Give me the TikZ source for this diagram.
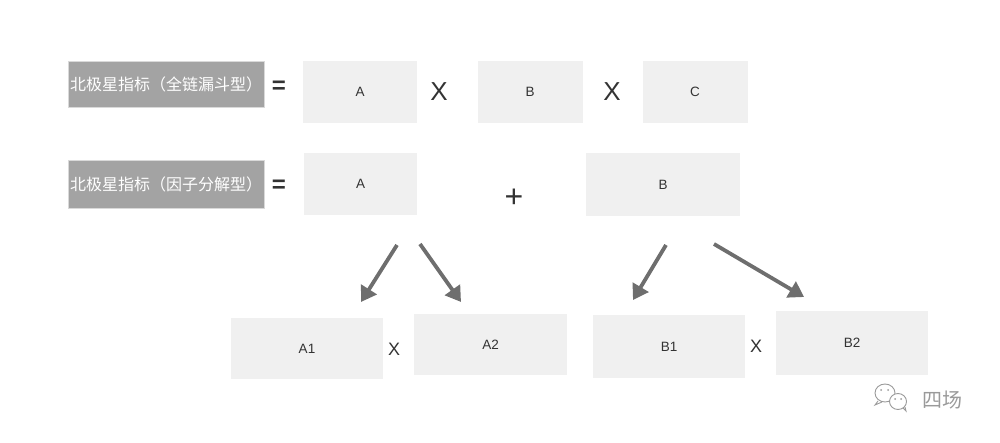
\documentclass[tikz,border=0pt]{standalone}
\usepackage{fontspec}
\setmainfont{Liberation Sans}
\newfontfamily\cjk{Noto Sans CJK SC}
\usetikzlibrary{arrows.meta}
\definecolor{boxfill}{HTML}{F0F0F0}
\definecolor{lblfill}{HTML}{A3A3A3}
\definecolor{arrowc}{HTML}{6E6E6E}
\definecolor{txt}{HTML}{333333}
\definecolor{wmc}{HTML}{9A9A9A}
\tikzset{
  termbox/.style={fill=boxfill, draw=none, inner sep=0pt, font=\fontsize{13.5}{15}\selectfont, text=txt},
  lblbox/.style={fill=lblfill, draw=white!85!black, line width=0.6pt, inner sep=0pt, text=white, font=\cjk\fontsize{16}{19}\selectfont},
  opsym/.style={inner sep=0pt, text=txt, font=\fontsize{26}{28}\selectfont},
  opsmall/.style={inner sep=0pt, text=txt, font=\fontsize{18}{20}\selectfont},
  eqsym/.style={inner sep=0pt, text=txt, font=\bfseries\fontsize{24}{26}\selectfont},
  bigarrow/.style={draw=arrowc, line width=3.8pt, -{Triangle[length=15pt,width=18pt]}},
  wmline/.style={draw=wmc, line width=0.9pt}
}
\begin{document}
\begin{tikzpicture}[x=1pt,y=-1pt]
\useasboundingbox (0,0) rectangle (1000,443);
% row 1
\node[lblbox, minimum width=196pt, minimum height=46pt] (L1) at (166,84) {北极星指标（全链漏斗型）};
\node[eqsym] (eq1) at (279,87) {=};
\node[termbox, minimum width=114pt, minimum height=62pt] (A) at (360,92) {A};
\node[opsym] (x1) at (439,92) {X};
\node[termbox, minimum width=105pt, minimum height=62pt] (B) at (530,92) {B};
\node[opsym] (x2) at (612,92) {X};
\node[termbox, minimum width=105pt, minimum height=62pt] (C) at (695,92) {C};
% row 2
\node[lblbox, minimum width=196pt, minimum height=48pt] (L2) at (166,184) {北极星指标（因子分解型）};
\node[eqsym] (eq2) at (279,186) {=};
\node[termbox, minimum width=113pt, minimum height=62pt] (A2top) at (360.5,184) {A};
\node[opsym, font=\fontsize{32}{34}\selectfont] (plus) at (514,198) {+};
\node[termbox, minimum width=154pt, minimum height=63pt] (B2top) at (663,184.5) {B};
% row 3
\node[termbox, minimum width=152pt, minimum height=61pt] (A1) at (307,348.5) {A1};
\node[opsmall] (x3) at (394,349) {X};
\node[termbox, minimum width=153pt, minimum height=61pt] (A2) at (490.5,344.5) {A2};
\node[termbox, minimum width=152pt, minimum height=63pt] (B1) at (669,346.5) {B1};
\node[opsmall] (x4) at (756,346) {X};
\node[termbox, minimum width=152pt, minimum height=64pt] (B2) at (852,343) {B2};
% arrows
\coordinate (a1s) at (397,245); \coordinate (a1e) at (361,302);
\coordinate (a2s) at (420,244); \coordinate (a2e) at (461,302);
\coordinate (b1s) at (666,245); \coordinate (b1e) at (633,300);
\coordinate (b2s) at (714,244); \coordinate (b2e) at (804,297);
\draw[bigarrow] (a1s) -- (a1e);
\draw[bigarrow] (a2s) -- (a2e);
\draw[bigarrow] (b1s) -- (b1e);
\draw[bigarrow] (b2s) -- (b2e);
% watermark icon
\draw[wmline] (885,393) ellipse (10pt and 9pt);
\draw[wmline] (878,401) -- (875,405) -- (882,402);
\draw[wmline, fill=white] (898,401.5) ellipse (8.5pt and 8pt);
\draw[wmline] (903,408) -- (906,411) -- (905,407);
\fill[wmc] (881,390) circle (1pt) (888,390) circle (1pt) (895,399) circle (1pt) (901,399) circle (1pt);
\node[inner sep=0pt, text=wmc, font=\cjk\fontsize{20}{22}\selectfont] (wm) at (942,400) {四场};
\end{tikzpicture}
\end{document}
